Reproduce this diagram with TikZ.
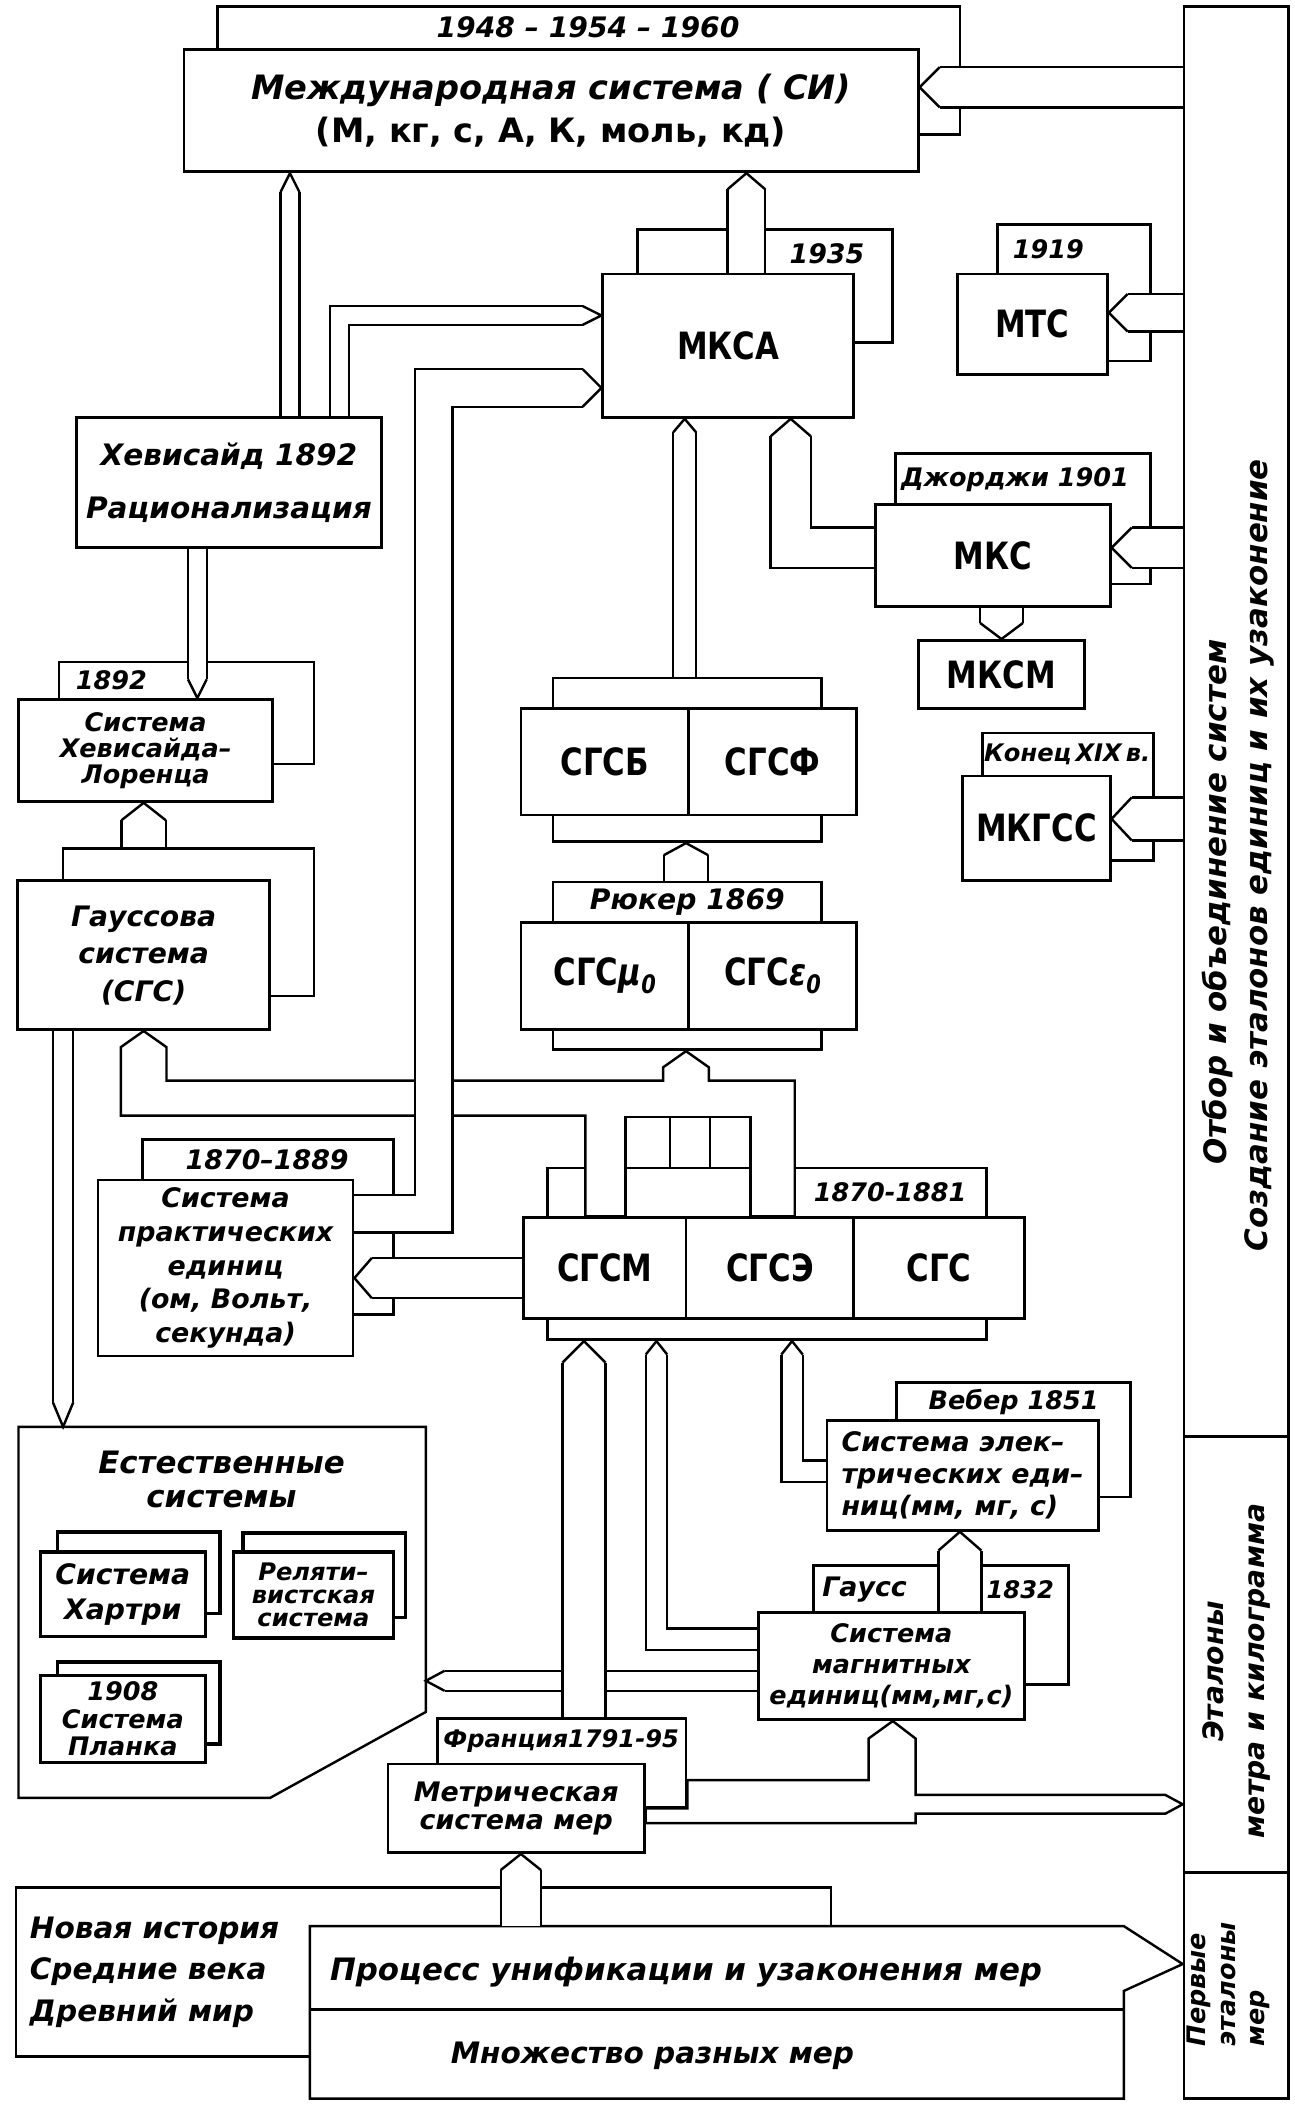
\documentclass[tikz,border=0pt]{standalone}
\usepackage{fontspec}
\setmainfont{DejaVu Sans}
\newfontfamily\unitfont{DejaVu Sans}[FakeStretch=0.82]
\usetikzlibrary{calc}

\pgfdeclarelayer{back}
\pgfdeclarelayer{ducts}
\pgfsetlayers{back,ducts,main}

\tikzset{
  sysbox/.style={draw, line width=2pt, fill=white, inner sep=0pt},
  lbl/.style 2 args={inner sep=0pt, align=center, font=\fontsize{#1}{#2}\selectfont\bfseries\itshape},
  unitlbl/.style={font=\unitfont\fontsize{28}{28}\selectfont\bfseries},
  duct/.style={line width=1.8pt, double=white, double distance=#1, line join=miter},
  outline/.style={line width=1.8pt, fill=white, line join=miter},
  pics/dtip/.style 2 args={code={
    \fill[white] (-#2,#1) -- (0,0) -- (-#2,-#1) -- cycle;
    \draw[line width=1.8pt, line join=miter] (-#2,#1) -- (0,0) -- (-#2,-#1);}},
}
\newcommand{\subzero}{\raisebox{-6pt}{\fontsize{19}{19}\selectfont\itshape 0}}

\begin{document}
\begin{tikzpicture}[x=1pt, y=-1pt]
\useasboundingbox (0,0) rectangle (964,1568);

% systems
\node[sysbox, minimum width=547, minimum height=91, align=center, font=\fontsize{25}{32}\selectfont\bfseries] (si) at (410.5,82.5)
  {{\itshape Международная система ( СИ)}\\(М, кг, с, А, К, моль, кд)};
\node[sysbox, unitlbl, minimum width=187, minimum height=107] (mksa) at (542.5,257.5) {МКСА};
\node[sysbox, unitlbl, minimum width=112, minimum height=75] (mtc) at (769,241.5) {МТС};
\node[sysbox, unitlbl, minimum width=175, minimum height=76] (mks) at (739.5,414) {МКС};
\node[sysbox, unitlbl, minimum width=124, minimum height=51] (mksm) at (746,502.5) {МКСМ};
\node[sysbox, unitlbl, minimum width=110, minimum height=78] (mkgss) at (772,617) {МКГСС};
\node[sysbox, lbl={22}{40}, minimum width=227, minimum height=97] (heavi) at (170.5,359.5) {Хевисайд 1892\\Рационализация};
\node[sysbox, lbl={19}{19.5}, minimum width=189, minimum height=76] (hl) at (108.5,559) {Система\\Хевисайда--\\Лоренца};
\node[sysbox, lbl={21}{28}, minimum width=188, minimum height=111] (gauss) at (107,711.5) {Гауссова\\система\\(СГС)};
\node[sysbox, unitlbl, minimum width=125, minimum height=79] (cgsb) at (450.5,567.5) {СГСБ};
\node[sysbox, unitlbl, minimum width=125, minimum height=79] (cgsf) at (575.5,567.5) {СГСФ};
\node[sysbox, unitlbl, minimum width=125, minimum height=80] (cgsmu) at (450.5,727) {СГС{\itshape μ\subzero}};
\node[sysbox, unitlbl, minimum width=125, minimum height=80] (cgseps) at (575.5,727) {СГС{\itshape ε\subzero}};
\node[sysbox, lbl={20}{25}, minimum width=190, minimum height=131] (pract) at (168,944.5) {Система\\практических\\единиц\\(ом, Вольт,\\секунда)};
\node[sysbox, unitlbl, minimum width=121, minimum height=75] (cgsm) at (450.5,944.5) {СГСМ};
\node[sysbox, unitlbl, minimum width=125, minimum height=75] (cgse) at (573.5,944.5) {СГСЭ};
\node[sysbox, unitlbl, minimum width=127, minimum height=75] (cgs) at (699.5,944.5) {СГС};
\node[sysbox, lbl={20}{24}, align=left, minimum width=202, minimum height=82] (weber) at (717,1099) {Система элек--\\трических еди--\\ниц(мм, мг, с)};
\node[sysbox, lbl={19}{23}, minimum width=198, minimum height=80] (magn) at (664,1241) {Система\\магнитных\\единиц(мм,мг,с)};
\node[sysbox, lbl={20}{21}, minimum width=191, minimum height=66] (metric) at (384.5,1347) {Метрическая\\система мер};

% natural systems
\node[lbl={23}{25}] (natlbl) at (165,1102) {Естественные\\системы};
\node[sysbox, line width=2.6pt, minimum width=121, minimum height=61] (hartback) at (103.5,1171.5) {};
\node[sysbox, line width=2.6pt, lbl={21}{26}, minimum width=123, minimum height=63] (hart) at (91.5,1187.5) {Система\\Хартри};
\node[sysbox, line width=2.6pt, minimum width=121, minimum height=63] (relback) at (241.5,1173.5) {};
\node[sysbox, line width=2.6pt, lbl={18}{17}, minimum width=119, minimum height=64] (rel) at (233.5,1188) {Реляти--\\вистская\\система};
\node[sysbox, line width=2.6pt, minimum width=121, minimum height=61] (planckback) at (103.5,1268.5) {};
\node[sysbox, line width=2.6pt, lbl={19}{20.5}, minimum width=123, minimum height=65] (planck) at (91.5,1280.5) {1908\\Система\\Планка};

% years
\node[lbl={21}{21}] (yrsi) at (438,20) {1948 -- 1954 -- 1960};
\node[lbl={20}{20}] (yrmksa) at (616,189) {1935};
\node[lbl={19}{19}] (yrmtc) at (781,186) {1919};
\node[lbl={19}{19}] (yrmks) at (756,357) {Джорджи 1901};
\node[lbl={18}{18}] (yrmkgss) at (795,562) {Конец\,XIX\,в.};
\node[lbl={19}{19}] (yrhl) at (83,507) {1892};
\node[lbl={21}{21}] (yrrueck) at (512,672) {Рюкер 1869};
\node[lbl={20}{20}] (yrpract) at (199,864) {1870--1889};
\node[lbl={19}{19}] (yrcgs) at (663,888) {1870-1881};
\node[lbl={19}{19}] (yrweber) at (755,1044) {Вебер 1851};
\node[lbl={20}{20}] (yrgauss) at (644,1184) {Гаусс};
\node[lbl={18}{18}] (yrmagn) at (760,1184) {1832};
\node[lbl={18}{18}] (yrmetric) at (418,1297) {Франция1791-95};

% history
\node[lbl={22}{31}, align=left, anchor=west] (eratxt) at (22,1469) {Новая история\\Средние века\\Древний мир};
\node[lbl={23}{23}] (uniflbl) at (511,1469) {Процесс унификации и узаконения мер};
\node[lbl={22}{22}] (manylbl) at (486,1531) {Множество разных мер};

% right column
\node[lbl={23}{23}, rotate=90] (selectlbl) at (907,672) {Отбор и объединение систем};
\node[lbl={23}{23}, rotate=90] (createlbl) at (938,637) {Создание эталонов единиц и их узаконение};
\node[lbl={21}{30}, rotate=90] (etallbl) at (921,1245) {Эталоны\\метра и килограмма};
\node[lbl={19}{22}, rotate=90, align=left] (firstlbl) at (915,1478) {Первые\\эталоны\\мер};

\begin{pgfonlayer}{back}
\node[sysbox, minimum width=78, minimum height=1558] (col) at (921,784) {};
\draw[line width=2pt] (col.west |- 0,1070) -- (col.east |- 0,1070)
  (col.west |- 0,1395) -- (col.east |- 0,1395);
\node[sysbox, minimum width=553, minimum height=95] (siback) at (438.5,52.5) {};
\node[sysbox, minimum width=190, minimum height=84] (mksaback) at (570,213) {};
\node[sysbox, minimum width=114, minimum height=102] (mtcback) at (800,218) {};
\node[sysbox, minimum width=190, minimum height=97] (mksback) at (762,386.5) {};
\node[sysbox, minimum width=127, minimum height=95] (mkgssback) at (795.5,593.5) {};
\node[sysbox, minimum width=190, minimum height=76] (hlback) at (139,531) {};
\node[sysbox, minimum width=187, minimum height=110] (gaussback) at (140.5,687) {};
\node[sysbox, minimum width=200, minimum height=122] (cgsbback) at (512,566) {};
\node[sysbox, minimum width=200, minimum height=125] (rueckback) at (512,719.5) {};
\node[sysbox, minimum width=187, minimum height=130] (practback) at (199.5,914) {};
\node[sysbox, minimum width=327, minimum height=128] (cgsback) at (571.5,934) {};
\node[sysbox, minimum width=174, minimum height=85] (weberback) at (755,1072.5) {};
\node[sysbox, minimum width=190, minimum height=89] (magnback) at (701,1210.5) {};
\node[sysbox, minimum width=185, minimum height=66] (metricback) at (418.5,1313) {};
\node[sysbox, minimum width=607, minimum height=126] (era) at (315.5,1469) {};
\node[inner sep=0pt, minimum width=606, minimum height=128] (proc) at (534,1499) {};
\draw[outline] (proc.north west) -- (proc.north east) -- (col.west |- 0,1463) -- (proc.east |- 0,1483)
  -- (proc.south east) -- (proc.south west) -- cycle;
\draw[line width=2pt] (proc.west |- 0,1497) -- (proc.east |- 0,1497);
\node[inner sep=0pt, minimum width=303, minimum height=276] (natural) at (165.5,1201) {};
\draw[outline] (natural.north west) -- (natural.north east) -- ([yshift=64pt]natural.south east)
  -- ([xshift=-116pt]natural.south east) -- (natural.south west) -- cycle;
\end{pgfonlayer}

\begin{pgfonlayer}{ducts}
% from the right column
\coordinate (tSIr) at (si.east |- 0,65);
\draw[duct=28.2] (col.west |- tSIr) -- ($(tSIr)+(15,0)$);
\pic[rotate=180] at (tSIr) {dtip={15}{15}};
\coordinate (tMTC) at (mtc.east |- 0,233);
\draw[duct=26.2] (col.west |- tMTC) -- ($(tMTC)+(14,0)$);
\pic[rotate=180] at (tMTC) {dtip={14}{14}};
\coordinate (tMKS) at (mks.east |- 0,408);
\draw[duct=28.2] (col.west |- tMKS) -- ($(tMKS)+(15,0)$);
\pic[rotate=180] at (tMKS) {dtip={15}{15}};
\coordinate (tMKGSS) at (mkgss.east |- 0,610);
\draw[duct=30.2] (col.west |- tMKGSS) -- ($(tMKGSS)+(15,0)$);
\pic[rotate=180] at (tMKGSS) {dtip={16}{15}};

% into SI
\coordinate (tSIa) at (216,0 |- si.south);
\draw[duct=12.2] (tSIa |- heavi.north) -- ($(tSIa)+(0,14)$);
\pic[rotate=90] at (tSIa) {dtip={7}{14}};
\coordinate (tSIb) at (556,0 |- si.south);
\draw[duct=26.2] (tSIb |- mksa.north) -- ($(tSIb)+(0,12)$);
\pic[rotate=90] at (tSIb) {dtip={14}{12}};

% into MKSA
\coordinate (tMKSAa) at (mksa.west |- 0,235);
\draw[duct=12.2] (253,0 |- heavi.north) -- (253,0 |- tMKSAa) -- ($(tMKSAa)+(-14,0)$);
\pic at (tMKSAa) {dtip={7}{14}};
\coordinate (tMKSAc) at (510,0 |- mksa.south);
\draw[duct=15.2] (tMKSAc |- cgsbback.north) -- ($(tMKSAc)+(0,10)$);
\pic[rotate=90] at (tMKSAc) {dtip={8.5}{10}};
\coordinate (tMKSAd) at (589,0 |- mksa.south);
\draw[duct=28.2] (mks.west |- 0,408) -- (tMKSAd |- 0,408) -- ($(tMKSAd)+(0,13)$);
\pic[rotate=90] at (tMKSAd) {dtip={15}{13}};
\coordinate (tMKSM) at (746,0 |- mksm.north);
\draw[duct=30.2] (tMKSM |- mks.south) -- ($(tMKSM)+(0,-12)$);
\pic[rotate=-90] at (tMKSM) {dtip={16}{12}};

% left branch
\coordinate (tHL) at (147,0 |- hl.north);
\draw[duct=12.2] (tHL |- heavi.south) -- ($(tHL)+(0,-14)$);
\pic[rotate=-90] at (tHL) {dtip={7}{14}};
\coordinate (tHLb) at (107,0 |- hl.south);
\draw[duct=31.2] (tHLb |- gaussback.north) -- ($(tHLb)+(0,13)$);
\pic[rotate=90] at (tHLb) {dtip={16.5}{13}};
\coordinate (tNatA) at (47,0 |- natural.north);
\draw[duct=13.2] (tNatA |- gauss.south) -- ($(tNatA)+(0,-18)$);
\pic[rotate=-90] at (tNatA) {dtip={7.5}{18}};
\coordinate (tCGSB) at (511,0 |- cgsbback.south);
\draw[duct=31.2] (tCGSB |- rueckback.north) -- ($(tCGSB)+(0,9)$);
\pic[rotate=90] at (tCGSB) {dtip={16.5}{9}};

% CGS outlets
\draw[outline] (436,0 |- cgsm.north) -- (436,831) -- (90,831) -- (90,780) -- (107,0 |- gauss.south)
  -- (124,780) -- (124,805) -- (494,805) -- (494,795) -- (511,0 |- rueckback.south) -- (528,795)
  -- (528,805) -- (592,805) -- (592,0 |- cgse.north) -- cycle;
\draw[outline] (466,0 |- cgse.north) -- (466,832) -- (559,832) -- (559,0 |- cgse.north);
\draw[line width=1.8pt] (466,870) -- (559,870) (499,832) -- (499,870) (529,832) -- (529,870);
\coordinate (tMKSAb) at (mksa.west |- 0,289);
\draw[duct=26.2] (pract.east |- 0,904) -- (323,904) -- (323,0 |- tMKSAb) -- ($(tMKSAb)+(-14,0)$);
\pic at (tMKSAb) {dtip={14}{14}};
\coordinate (tPract) at (pract.east |- 0,952);
\draw[duct=28.2] (cgsm.west |- tPract) -- ($(tPract)+(13,0)$);
\pic[rotate=180] at (tPract) {dtip={15}{13}};

% lower inputs
\coordinate (tNatB) at (natural.east |- 0,1252);
\draw[duct=13.2] (magn.west |- tNatB) -- ($(tNatB)+(14,0)$);
\pic[rotate=180] at (tNatB) {dtip={7.5}{14}};
\coordinate (tCGSa) at (435,0 |- cgsback.south);
\draw[duct=30.2] (tCGSa |- metricback.north) -- ($(tCGSa)+(0,16)$);
\pic[rotate=90] at (tCGSa) {dtip={16}{16}};
\coordinate (tCGSb) at (489,0 |- cgsback.south);
\draw[duct=14.2] (magn.west |- 0,1221) -- (tCGSb |- 0,1221) -- ($(tCGSb)+(0,10)$);
\pic[rotate=90] at (tCGSb) {dtip={8}{10}};
\coordinate (tCGSc) at (590,0 |- cgsback.south);
\draw[duct=14.2] (weber.west |- 0,1096) -- (tCGSc |- 0,1096) -- ($(tCGSc)+(0,10)$);
\pic[rotate=90] at (tCGSc) {dtip={8}{10}};
\coordinate (tWeber) at (715,0 |- weber.south);
\draw[duct=30.2] (tWeber |- magn.north) -- ($(tWeber)+(0,14)$);
\pic[rotate=90] at (tWeber) {dtip={16}{14}};
\draw[outline] (metricback.east |- 0,1326) -- (647,1326) -- (647,1295) -- (665,0 |- magn.south) -- (682,1295)
  -- (682,1337) -- (868,1337) -- (col.west |- 0,1344) -- (868,1351) -- (682,1351) -- (682,1358)
  -- (metric.east |- 0,1358) -- (metric.east |- metricback.south) -- (metricback.south east) -- cycle;
\coordinate (tMetric) at (388,0 |- metric.south);
\draw[duct=28.2] (tMetric |- proc.north) -- ($(tMetric)+(0,12)$);
\pic[rotate=90] at (tMetric) {dtip={15}{12}};
\end{pgfonlayer}
\end{tikzpicture}
\end{document}
